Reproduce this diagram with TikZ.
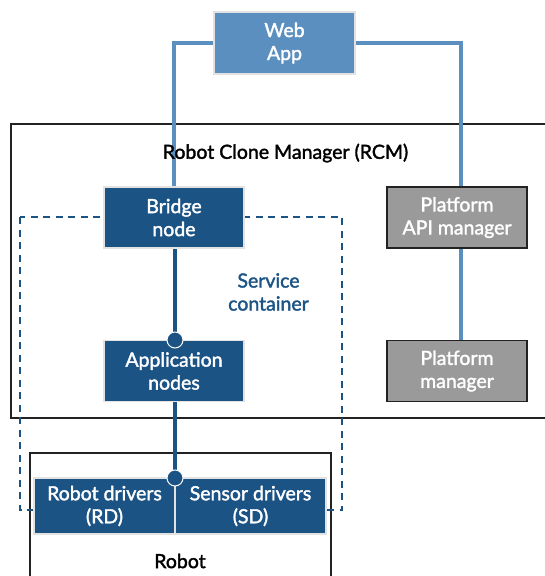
\documentclass[tikz,border=0pt]{standalone}
\usepackage{fontspec}
\setmainfont{Lato}[FakeBold=1.8]
\usetikzlibrary{backgrounds}
\definecolor{dblue}{HTML}{1B5385}
\definecolor{lblue}{HTML}{5A8FC0}
\definecolor{gbox}{HTML}{9A9A9A}
\definecolor{nborder}{HTML}{E2E2E2}
\definecolor{frame}{HTML}{222222}
\begin{document}
\begin{tikzpicture}[x=1pt,y=-1pt,
  txt/.style={font=\fontsize{19.5}{23}\selectfont, align=center},
  nodebox/.style={txt, text=white, line width=1.5pt, minimum height=61pt, inner sep=0pt, align=center},
  bluebox/.style={nodebox, fill=dblue, draw=nborder, minimum width=140pt},
  webbox/.style={nodebox, fill=lblue, draw=nborder, minimum width=141pt, minimum height=62pt},
  greybox/.style={nodebox, fill=gbox, draw=frame, minimum width=140pt},
  framebox/.style={draw=frame, line width=1.3pt},
  lline/.style={draw=lblue, line width=4pt},
  dline/.style={draw=dblue, line width=4.5pt},
  container/.style={draw=dblue, line width=2.8pt, dash pattern=on 7pt off 5.5pt},
  joint/.style={fill=dblue, draw=white, line width=1pt}]
\useasboundingbox (0,0) rectangle (545,576);
\clip (0,0) rectangle (545,576);
% nodes
\node[webbox] (web) at (284.5,43) {Web\\App};
\node[bluebox] (bridge) at (174,217.5) {Bridge\\node};
\node[greybox] (papi) at (457,217.5) {Platform\\API manager};
\node[bluebox] (app) at (174,371) {Application\\nodes};
\node[greybox] (pm) at (457,371) {Platform\\manager};
\node[bluebox, minimum width=141pt, minimum height=56pt] (rd) at (104.5,506) {Robot drivers\\(RD)};
\node[bluebox, minimum width=151pt, minimum height=56pt] (sd) at (250.5,506) {Sensor drivers\\(SD)};
\node[txt, text=black] (rcm) at (285.5,153) {Robot Clone Manager (RCM)};
\node[txt, text=black] (robot) at (180,561) {Robot};
\node[txt, text=dblue] (sc) at (268.5,292) {Service\\container};
\coordinate (j1) at (175,340);
\coordinate (j2) at (175,478);
\begin{pgfonlayer}{background}
  \draw[framebox] (11,124) rectangle (570,418);
  \draw[framebox] (30,453) rectangle (331,600);
  \draw[lline] (web.west) -| (bridge.north);
  \draw[lline] (web.east) -| ([xshift=4pt]papi.north);
  \draw[lline] ([xshift=4pt]papi.south) -- ([xshift=4pt]pm.north);
  \draw[container] (20,217) rectangle (342,510);
  \draw[dline] ([xshift=1pt]bridge.south) -- (j1);
  \draw[dline] ([xshift=1pt]app.south) -- (j2);
\end{pgfonlayer}
\draw[joint] (j1) circle (8pt);
\draw[joint] (j2) circle (8pt);
\end{tikzpicture}
\end{document}
